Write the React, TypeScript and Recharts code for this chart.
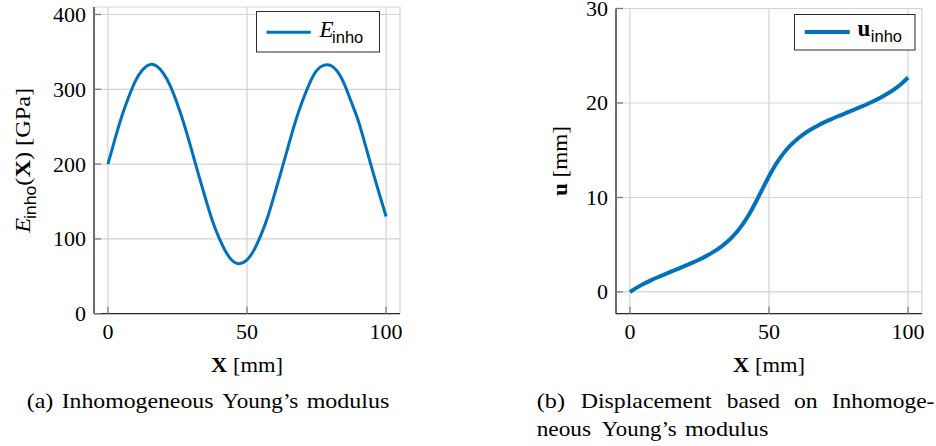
import { CartesianGrid, Label, Legend, Line, LineChart, XAxis, YAxis } from "recharts";

const SERIF = '"Liberation Serif", "Times New Roman", serif';
const SANS = '"Liberation Sans", Arial, sans-serif';
const BLUE = "#0072bd";
const FRAME = "#2b2b2b";
const GRID = "#d3d3d3";
const TICK = "#7c7c7c";
const TICK_LEN = 7;

// sample positions along the bar [mm]
const positions = [
  0, 2.5, 5, 7.5, 10, 12.5, 15, 17.5, 20, 22.5, 25, 27.5, 30, 32.5, 35, 37.5, 40, 42.5, 45, 47.5, 50,
  52.5, 55, 57.5, 60, 62.5, 65, 67.5, 70, 72.5, 75, 77.5, 80, 82.5, 85, 87.5, 90, 92.5, 95, 97.5, 100,
];

// Young's modulus E_inho(X) [GPa]
const modulus = [
  200, 233, 264, 290, 312, 326, 333, 331, 321, 304, 280, 252, 220, 187, 155, 125, 101, 82, 70, 67, 72,
  85, 105, 130, 161, 193, 226, 258, 285, 308, 325, 332, 332, 324, 307, 283, 258, 226, 193, 161, 130,
];

// displacement u_inho [mm]
const displacement = [
  0, 0.46, 0.87, 1.23, 1.56, 1.87, 2.17, 2.47, 2.78, 3.1, 3.44, 3.82, 4.24, 4.73, 5.32, 6.04, 6.94,
  8.04, 9.36, 10.81, 12.25, 13.53, 14.59, 15.45, 16.14, 16.71, 17.19, 17.6, 17.97, 18.3, 18.62, 18.92,
  19.22, 19.53, 19.84, 20.18, 20.55, 20.97, 21.44, 22.01, 22.7,
];

const xTicks = [0, 50, 100];
const modulusTicks = [0, 100, 200, 300, 400];
const displacementTicks = [0, 10, 20, 30];

const modulusData = positions.map((x, i) => ({ x, e: modulus[i] }));
const displacementData = positions.map((x, i) => ({ x, u: displacement[i] }));

function BottomTick({ x, y, payload }: any) {
  return (
    <g>
      <line x1={x} y1={y} x2={x} y2={y - TICK_LEN} stroke={TICK} strokeWidth={1.3} />
      <text x={x} y={y + 25} textAnchor="middle" fontFamily={SERIF} fontSize={22} fill="#000">
        {payload.value}
      </text>
    </g>
  );
}

function TopTick({ x, y }: any) {
  return <line x1={x} y1={y} x2={x} y2={y + TICK_LEN} stroke={TICK} strokeWidth={1.3} />;
}

function LeftTick({ x, y, payload }: any) {
  return (
    <g>
      <line x1={x} y1={y} x2={x + TICK_LEN} y2={y} stroke={TICK} strokeWidth={1.3} />
      <text x={x - 8} y={y} dy="0.34em" textAnchor="end" fontFamily={SERIF} fontSize={22} fill="#000">
        {payload.value}
      </text>
    </g>
  );
}

function RightTick({ x, y }: any) {
  return <line x1={x} y1={y} x2={x - TICK_LEN} y2={y} stroke={TICK} strokeWidth={1.3} />;
}

function PositionLabel({ viewBox }: any) {
  const cx = viewBox.x + viewBox.width / 2;
  return (
    <text x={cx} y={viewBox.y + 58} textAnchor="middle" fontFamily={SERIF} fontSize={22} textLength={72} lengthAdjust="spacingAndGlyphs" fill="#000">
      <tspan fontWeight="bold">X</tspan>
      <tspan> [mm]</tspan>
    </text>
  );
}

function ModulusAxisLabel({ viewBox }: any) {
  const bx = viewBox.x + 30;
  const cy = viewBox.y + viewBox.height / 2;
  return (
    <text transform={`translate(${bx},${cy}) rotate(-90)`} textAnchor="middle" fontFamily={SERIF} fontSize={22} textLength={145} lengthAdjust="spacingAndGlyphs" fill="#000">
      <tspan fontStyle="italic">E</tspan>
      <tspan fontFamily={SANS} fontSize={16} dy={6} dx={-1}>inho</tspan>
      <tspan dy={-6}>(</tspan>
      <tspan fontWeight="bold">X</tspan>
      <tspan>)  [GPa]</tspan>
    </text>
  );
}

function DisplacementAxisLabel({ viewBox }: any) {
  const bx = viewBox.x + 46.5;
  const cy = viewBox.y + viewBox.height / 2;
  return (
    <text transform={`translate(${bx},${cy}) rotate(-90)`} textAnchor="middle" fontFamily={SERIF} fontSize={22} textLength={70} lengthAdjust="spacingAndGlyphs" fill="#000">
      <tspan fontWeight="bold">u</tspan>
      <tspan> [mm]</tspan>
    </text>
  );
}

function ModulusLegend() {
  return (
    <svg width={124} height={42} style={{ display: "block" }}>
      <rect x={0.5} y={0.5} width={123} height={40.5} fill="#fff" stroke={FRAME} strokeWidth={1} />
      <line x1={10.5} y1={21.3} x2={54.7} y2={21.3} stroke={BLUE} strokeWidth={3} />
      <text x={63.5} y={26.3} fontFamily={SERIF} fontSize={23} fontStyle="italic" fill="#000">
        E
        <tspan fontStyle="normal" fontFamily={SANS} fontSize={16.5} dy={6} dx={-1.5}>inho</tspan>
      </text>
    </svg>
  );
}

function DisplacementLegend() {
  return (
    <svg width={122} height={37} style={{ display: "block" }}>
      <rect x={0.5} y={0.5} width={120.5} height={35.5} fill="#fff" stroke={FRAME} strokeWidth={1} />
      <line x1={10.7} y1={18} x2={55.7} y2={18} stroke={BLUE} strokeWidth={4} />
      <text x={63.5} y={21.7} fontFamily={SERIF} fontSize={23} fontWeight="bold" fill="#000">
        u
        <tspan fontWeight="normal" fontFamily={SANS} fontSize={16.5} dy={6.3} dx={0.5}>inho</tspan>
      </text>
    </svg>
  );
}

function ModulusChart() {
  return (
    <LineChart width={410} height={380} data={modulusData} margin={{ top: 7, right: 10, bottom: 0, left: 0 }}>
      <CartesianGrid stroke={GRID} strokeWidth={1.2} />
      <XAxis dataKey="x" type="number" domain={[-5, 105]} ticks={xTicks} interval={0} height={66.3}
        tickSize={0} tickMargin={0} tick={BottomTick} axisLine={{ stroke: FRAME, strokeWidth: 1.3 }}>
        <Label content={PositionLabel} />
      </XAxis>
      <XAxis xAxisId="top" orientation="top" dataKey="x" type="number" domain={[-5, 105]} ticks={xTicks} interval={0}
        height={0} tickSize={0} tickMargin={0} tick={TopTick} axisLine={{ stroke: FRAME, strokeWidth: 1.3 }} />
      <YAxis type="number" domain={[0, 410]} ticks={modulusTicks} interval={0} width={94}
        tickSize={0} tickMargin={0} tick={LeftTick} axisLine={{ stroke: FRAME, strokeWidth: 1.3 }}>
        <Label content={ModulusAxisLabel} />
      </YAxis>
      <YAxis yAxisId="right" orientation="right" type="number" domain={[0, 410]} ticks={modulusTicks} interval={0}
        width={0} tickSize={0} tickMargin={0} tick={RightTick} axisLine={{ stroke: FRAME, strokeWidth: 1.3 }} />
      <Legend layout="horizontal" verticalAlign="middle" align="center" content={ModulusLegend}
        wrapperStyle={{ position: "absolute", left: 256, top: 11, width: 124, height: 42 }} />
      <Line type="natural" dataKey="e" stroke={BLUE} strokeWidth={3} dot={false} activeDot={false} isAnimationActive={false} />
    </LineChart>
  );
}

function DisplacementChart() {
  return (
    <LineChart width={412} height={380} data={displacementData} margin={{ top: 8.5, right: 10, bottom: 0, left: 0 }}>
      <CartesianGrid stroke={GRID} strokeWidth={1.2} />
      <XAxis dataKey="x" type="number" domain={[-5, 105]} ticks={xTicks} interval={0} height={66.3}
        tickSize={0} tickMargin={0} tick={BottomTick} axisLine={{ stroke: FRAME, strokeWidth: 1.3 }}>
        <Label content={PositionLabel} />
      </XAxis>
      <XAxis xAxisId="top" orientation="top" dataKey="x" type="number" domain={[-5, 105]} ticks={xTicks} interval={0}
        height={0} tickSize={0} tickMargin={0} tick={TopTick} axisLine={{ stroke: FRAME, strokeWidth: 1.3 }} />
      <YAxis type="number" domain={[-2.3, 30]} ticks={displacementTicks} interval={0} width={96}
        tickSize={0} tickMargin={0} tick={LeftTick} axisLine={{ stroke: FRAME, strokeWidth: 1.3 }}>
        <Label content={DisplacementAxisLabel} />
      </YAxis>
      <YAxis yAxisId="right" orientation="right" type="number" domain={[-2.3, 30]} ticks={displacementTicks} interval={0}
        width={0} tickSize={0} tickMargin={0} tick={RightTick} axisLine={{ stroke: FRAME, strokeWidth: 1.3 }} />
      <Legend layout="horizontal" verticalAlign="middle" align="center" content={DisplacementLegend}
        wrapperStyle={{ position: "absolute", left: 274.3, top: 14.3, width: 122, height: 37 }} />
      <Line type="natural" dataKey="u" stroke={BLUE} strokeWidth={4} dot={false} activeDot={false} isAnimationActive={false} />
    </LineChart>
  );
}

function Word({ x, y, w, children }: any) {
  return (
    <text x={x} y={y} textLength={w} lengthAdjust="spacingAndGlyphs" fontFamily={SERIF} fontSize={22} fill="#000">
      {children}
    </text>
  );
}

export default function App() {
  return (
    <div style={{ position: "absolute", left: 0, top: 0, width: 936, height: 446, background: "#fff" }}>
      <div style={{ position: "absolute", left: 0, top: 0 }}>
        <ModulusChart />
      </div>
      <div style={{ position: "absolute", left: 520, top: 0 }}>
        <DisplacementChart />
      </div>
      <svg width={936} height={446} style={{ position: "absolute", left: 0, top: 0, pointerEvents: "none" }}>
        <Word x={26.7} y={408.3} w={26.7}>(a)</Word>
        <Word x={61.7} y={408.3} w={151.7}>Inhomogeneous</Word>
        <Word x={222.3} y={408.3} w={76}>Young’s</Word>
        <Word x={306.7} y={408.3} w={82.7}>modulus</Word>

        <Word x={536.7} y={408.3} w={28.3}>(b)</Word>
        <Word x={580.7} y={408.3} w={131}>Displacement</Word>
        <Word x={726.7} y={408.3} w={53.3}>based</Word>
        <Word x={794} y={408.3} w={23.7}>on</Word>
        <Word x={831.7} y={408.3} w={102.7}>Inhomoge-</Word>
        <Word x={536.7} y={435.7} w={54.3}>neous</Word>
        <Word x={601.7} y={435.7} w={75}>Young’s</Word>
        <Word x={685} y={435.7} w={83.3}>modulus</Word>
      </svg>
    </div>
  );
}
